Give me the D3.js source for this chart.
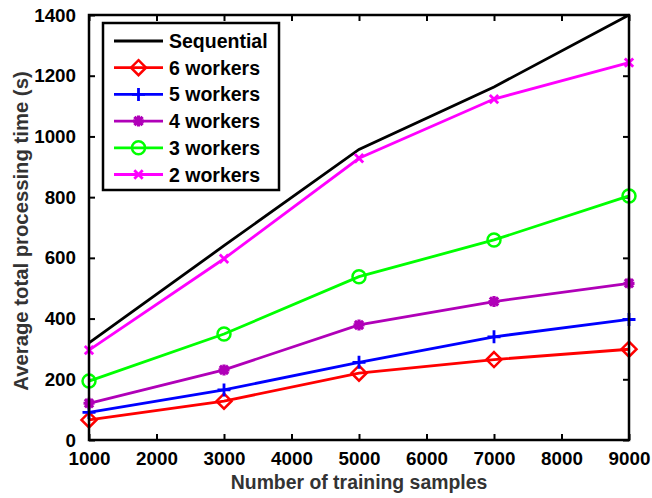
<!DOCTYPE html>
<html>
<head>
<meta charset="utf-8">
<script src="https://cdn.jsdelivr.net/npm/d3@7"></script>
<style>
  html, body { margin: 0; padding: 0; background: #fff; }
  svg { display: block; font-family: "Liberation Sans", Arial, sans-serif; font-weight: bold; }
</style>
</head>
<body>
<svg id="chart" width="652" height="498"></svg>
<script>
// Training set sizes (x) and average processing times in seconds (y)
const samples = [1000, 3000, 5000, 7000, 9000];
const sequential = [320, 640, 957, 1163, 1400];
const workers6 = [66, 128, 220, 265, 299];
const workers5 = [91, 165, 256, 340, 397];
const workers4 = [121, 231, 379, 456, 516];
const workers3 = [194, 349, 538, 659, 804];
const workers2 = [296, 597, 928, 1123, 1243];

const xTicks = [1000, 2000, 3000, 4000, 5000, 6000, 7000, 8000, 9000];
const yTicks = [0, 200, 400, 600, 800, 1000, 1200, 1400];

const series = [
  { name: "Sequential", values: sequential, color: "#000000", marker: "none" },
  { name: "6 workers", values: workers6, color: "#ff0000", marker: "diamond" },
  { name: "5 workers", values: workers5, color: "#0000ff", marker: "plus" },
  { name: "4 workers", values: workers4, color: "#b000b8", marker: "star" },
  { name: "3 workers", values: workers3, color: "#00ff00", marker: "circle" },
  { name: "2 workers", values: workers2, color: "#ff00ff", marker: "cross" }
];

const plot = { left: 89, right: 629, top: 15, bottom: 440 };
const svg = d3.select("#chart");

const x = d3.scaleLinear().domain([1000, 9000]).range([plot.left, plot.right]);
const y = d3.scaleLinear().domain([0, 1400]).range([plot.bottom, plot.top]);

// Axes with inward ticks on all four sides
const tickLen = 6;
const fontTick = "18.8px";

svg.append("g")
  .attr("transform", `translate(0,${plot.bottom})`)
  .call(d3.axisBottom(x).tickValues(xTicks).tickSizeInner(-tickLen).tickSizeOuter(0).tickPadding(12).tickFormat(d3.format("d")))
  .call(g => g.select(".domain").remove())
  .call(g => g.selectAll("line").attr("stroke", "#000").attr("stroke-width", 2))
  .call(g => g.selectAll("text").attr("font-size", fontTick).attr("fill", "#000").attr("font-family", "Liberation Sans, Arial, sans-serif").attr("font-weight", "bold"));

svg.append("g")
  .attr("transform", `translate(0,${plot.top})`)
  .call(d3.axisTop(x).tickValues(xTicks).tickSizeInner(-tickLen).tickSizeOuter(0).tickFormat(""))
  .call(g => g.select(".domain").remove())
  .call(g => g.selectAll("line").attr("stroke", "#000").attr("stroke-width", 2));

svg.append("g")
  .attr("transform", `translate(${plot.left},0)`)
  .call(d3.axisLeft(y).tickValues(yTicks).tickSizeInner(-tickLen).tickSizeOuter(0).tickPadding(13).tickFormat(d3.format("d")))
  .call(g => g.select(".domain").remove())
  .call(g => g.selectAll("line").attr("stroke", "#000").attr("stroke-width", 2))
  .call(g => g.selectAll("text").attr("font-size", fontTick).attr("fill", "#000").attr("font-family", "Liberation Sans, Arial, sans-serif").attr("font-weight", "bold"));

svg.append("g")
  .attr("transform", `translate(${plot.right},0)`)
  .call(d3.axisRight(y).tickValues(yTicks).tickSizeInner(-tickLen).tickSizeOuter(0).tickFormat(""))
  .call(g => g.select(".domain").remove())
  .call(g => g.selectAll("line").attr("stroke", "#000").attr("stroke-width", 2));

// Data lines
const line = d3.line().x((d, i) => x(samples[i])).y(d => y(d));

const lines = svg.append("g");
series.forEach(s => {
  lines.append("path")
    .attr("d", line(s.values))
    .attr("fill", "none")
    .attr("stroke", s.color)
    .attr("stroke-width", 2.8)
    .attr("stroke-linejoin", "miter");
});

// Marker drawing
function drawMarker(g, type, cx, cy, color) {
  if (type === "diamond") {
    const r = 7.5;
    g.append("path")
      .attr("d", `M${cx},${cy - r}L${cx + r},${cy}L${cx},${cy + r}L${cx - r},${cy}Z`)
      .attr("fill", "none").attr("stroke", color).attr("stroke-width", 2.5);
  } else if (type === "plus") {
    const r = 6.5;
    g.append("path")
      .attr("d", `M${cx - r},${cy}L${cx + r},${cy}M${cx},${cy - r}L${cx},${cy + r}`)
      .attr("stroke", color).attr("stroke-width", 2.8);
  } else if (type === "star") {
    const r = 5.5;
    const d = r * 0.75;
    g.append("path")
      .attr("d", `M${cx - r},${cy}L${cx + r},${cy}M${cx},${cy - r}L${cx},${cy + r}` +
        `M${cx - d},${cy - d}L${cx + d},${cy + d}M${cx - d},${cy + d}L${cx + d},${cy - d}`)
      .attr("stroke", color).attr("stroke-width", 3.2);
    g.append("circle").attr("cx", cx).attr("cy", cy).attr("r", 3.6).attr("fill", color);
  } else if (type === "circle") {
    g.append("circle").attr("cx", cx).attr("cy", cy).attr("r", 6.5)
      .attr("fill", "none").attr("stroke", color).attr("stroke-width", 2.5);
  } else if (type === "cross") {
    const r = 4.2;
    g.append("path")
      .attr("d", `M${cx - r},${cy - r}L${cx + r},${cy + r}M${cx - r},${cy + r}L${cx + r},${cy - r}`)
      .attr("stroke", color).attr("stroke-width", 2.8);
  }
}

const markers = svg.append("g");
series.forEach(s => {
  s.values.forEach((v, i) => drawMarker(markers, s.marker, x(samples[i]), y(v), s.color));
});

// Plot frame
svg.append("rect")
  .attr("x", plot.left).attr("y", plot.top)
  .attr("width", plot.right - plot.left).attr("height", plot.bottom - plot.top)
  .attr("fill", "none").attr("stroke", "#000").attr("stroke-width", 2.5);

// Legend
const legend = svg.append("g");
const lg = { x: 103, y: 23, w: 176, h: 167, rowH: 26.7, firstRow: 41 };
legend.append("rect")
  .attr("x", lg.x).attr("y", lg.y).attr("width", lg.w).attr("height", lg.h)
  .attr("fill", "#fff").attr("stroke", "#000").attr("stroke-width", 2.5);
series.forEach((s, i) => {
  const ry = lg.firstRow + i * lg.rowH;
  legend.append("line")
    .attr("x1", 114).attr("x2", 163).attr("y1", ry).attr("y2", ry)
    .attr("stroke", s.color).attr("stroke-width", 2.8);
  drawMarker(legend, s.marker, 138.5, ry, s.color);
  legend.append("text")
    .attr("x", 169).attr("y", ry + 7)
    .attr("font-size", "19.5px").attr("fill", "#000")
    .text(s.name);
});

// Axis titles
svg.append("text")
  .attr("x", (plot.left + plot.right) / 2).attr("y", 489)
  .attr("text-anchor", "middle").attr("font-size", "19.4px").attr("fill", "#333")
  .text("Number of training samples");

svg.append("text")
  .attr("transform", "translate(27.5,231) rotate(-90)")
  .attr("text-anchor", "middle").attr("font-size", "20.3px").attr("fill", "#333")
  .text("Average total processing time (s)");
</script>
</body>
</html>
